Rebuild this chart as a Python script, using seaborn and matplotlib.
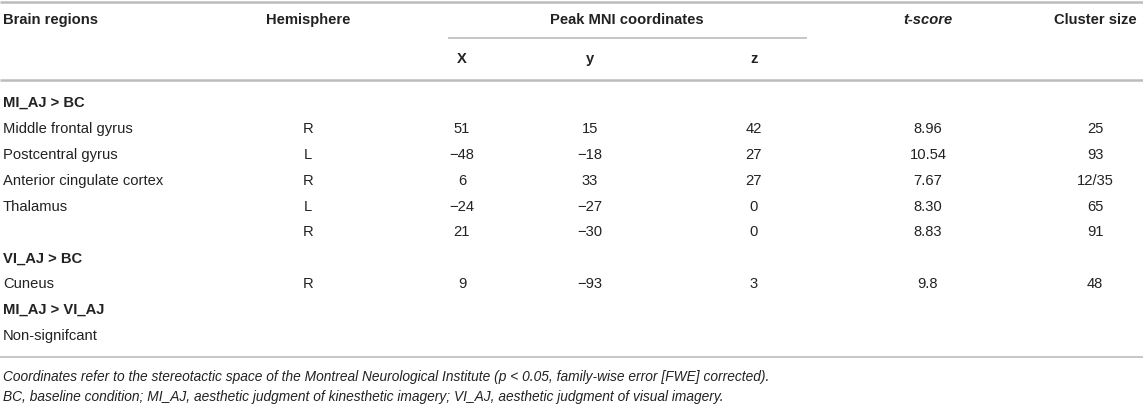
import pandas as pd
import matplotlib.pyplot as plt
import seaborn as sns

# Table contents
GROUPS = ['MI_AJ > BC', 'VI_AJ > BC', 'MI_AJ > VI_AJ']
REGIONS = ['Middle frontal gyrus', 'Postcentral gyrus', 'Anterior cingulate cortex',
           'Thalamus', '', 'Cuneus', 'Non-signifcant']
ROW_GROUP = [0, 0, 0, 0, 0, 1, 2]
HEMI = ['R', 'L', 'R', 'L', 'R', 'R', '']
PEAK_X = ['51', '\u221248', '6', '\u221224', '21', '9', '']
PEAK_Y = ['15', '\u221218', '33', '\u221227', '\u221230', '\u221293', '']
PEAK_Z = ['42', '27', '27', '0', '0', '3', '']
TSCORE = ['8.96', '10.54', '7.67', '8.30', '8.83', '9.8', '']
CLUSTER = ['25', '93', '12/35', '65', '91', '48', '']
FOOTNOTES = ['Coordinates refer to the stereotactic space of the Montreal Neurological Institute '
             '(p < 0.05, family-wise error [FWE] corrected).',
             'BC, baseline condition; MI_AJ, aesthetic judgment of kinesthetic imagery; '
             'VI_AJ, aesthetic judgment of visual imagery.']

df = pd.DataFrame({'region': REGIONS, 'group': ROW_GROUP, 'hemi': HEMI,
                   'x': PEAK_X, 'y': PEAK_Y, 'z': PEAK_Z,
                   't': TSCORE, 'cluster': CLUSTER})

sns.set_theme(style='white')
plt.rcParams['font.family'] = ['Liberation Sans', 'DejaVu Sans']

W, H = 1143, 410
fig = plt.figure(figsize=(W / 100, H / 100), dpi=100)
ax = fig.add_axes([0, 0, 1, 1])
ax.set_xlim(0, W)
ax.set_ylim(H, 0)
ax.axis('off')

TXT = '#222222'
LINE = '#bcbcbc'
FS = 10.6

# column centres
COLS = {'hemi': 308, 'x': 462, 'y': 590, 'z': 754, 't': 928, 'cluster': 1095}

# rules
ax.hlines([3, 81], 0, W, color=LINE, lw=1.8)
ax.hlines(39, 448, 807, color=LINE, lw=1.2)
ax.hlines(358, 0, W, color=LINE, lw=1.2)

# header
hy, sy = 20, 59
ax.text(3, hy, 'Brain regions', fontsize=FS, fontweight='bold', color=TXT, va='center')
ax.text(COLS['hemi'], hy, 'Hemisphere', fontsize=FS, fontweight='bold', color=TXT,
        va='center', ha='center')
ax.text(627, hy, 'Peak MNI coordinates', fontsize=FS, fontweight='bold', color=TXT,
        va='center', ha='center')
ax.text(COLS['t'], hy, 't-score', fontsize=FS, fontweight='bold', style='italic',
        color=TXT, va='center', ha='center')
ax.text(COLS['cluster'], hy, 'Cluster size', fontsize=FS, fontweight='bold', color=TXT,
        va='center', ha='center')
for key, lab in zip(['x', 'y', 'z'], ['X', 'y', 'z']):
    ax.text(COLS[key], sy, lab, fontsize=FS, fontweight='bold', color=TXT,
            va='center', ha='center')

# body
step = 25.9
yy = 103
last_group = -1
for _, row in df.iterrows():
    if row['group'] != last_group:
        ax.text(3, yy, GROUPS[row['group']], fontsize=FS, fontweight='bold', color=TXT,
                va='center')
        last_group = row['group']
        yy += step
    ax.text(3, yy, row['region'], fontsize=FS, color=TXT, va='center')
    for key in COLS:
        ax.text(COLS[key], yy, row[key], fontsize=FS, color=TXT, va='center', ha='center')
    yy += step

# footnotes
for i, note in enumerate(FOOTNOTES):
    ax.text(3, 377 + i * 20, note, fontsize=9.9, style='italic', color=TXT, va='center')

fig.savefig('out.png', dpi=100)
